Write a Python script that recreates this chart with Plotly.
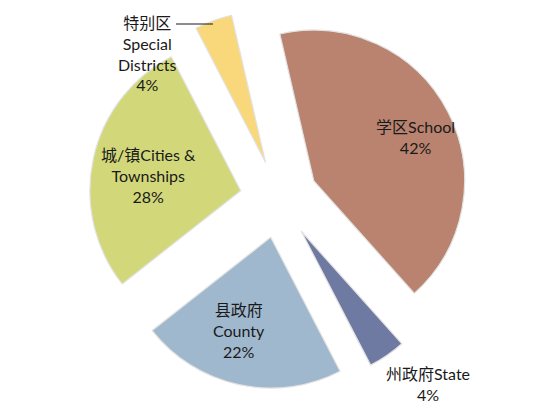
import plotly.graph_objects as go

# slice data, clockwise from the top
labels = ["学区School", "州政府State", "县政府County", "城/镇Cities & Townships", "特别区Special Districts"]
values = [42, 4, 22, 28, 4]
colors = ["#B9836F", "#6F7AA3", "#A0B8CE", "#D2D879", "#F9D77B"]

# label text shown next to / inside each slice
label_text = [
    "学区School<br>42%",
    "州政府State<br>4%",
    "县政府<br>County<br>22%",
    "城/镇Cities &<br>Townships<br>28%",
    "特别区<br>Special<br>Districts<br>4%",
]

W, H = 550, 416
OFF = 8  # page body margin pushes the figure 8px right/down
M = dict(l=20 - OFF, r=12 + OFF, t=9 - OFF, b=27 + OFF)


def px(x, y):
    # screen pixel position -> paper coords
    x, y = x - OFF, y - OFF
    return ((x - M["l"]) / (W - M["l"] - M["r"]),
            1 - (y - M["t"]) / (H - M["t"] - M["b"]))


fig = go.Figure(go.Pie(
    labels=labels,
    values=values,
    sort=False,
    direction="clockwise",
    rotation=-13,
    pull=[0.26] * 5,
    marker=dict(colors=colors, line=dict(color="#e2e2e2", width=1.2)),
    textinfo="none",
    hoverinfo="label+percent",
    showlegend=False,
))

# label centres (screen pixels)
label_pos = [(415, 137), (428, 384), (239, 330), (148, 175), (147, 53)]
font = dict(family="Lato, 'Noto Sans CJK SC', sans-serif", size=16, color="#1a1a1a")
for txt, (x, y) in zip(label_text, label_pos):
    ax, ay = px(x, y)
    fig.add_annotation(x=ax, y=ay, xref="paper", yref="paper", text=txt,
                       xanchor="center", yanchor="middle",
                       showarrow=False, font=font, align="center")

# leader line for the special districts label
x0, y0 = px(176, 24)
x1, y1 = px(213, 24)
fig.add_shape(type="line", xref="paper", yref="paper", x0=x0, y0=y0, x1=x1, y1=y1,
              line=dict(color="#1a1a1a", width=1))

fig.update_layout(
    width=W, height=H,
    margin=M,
    paper_bgcolor="white",
    plot_bgcolor="white",
)

fig.write_html("out.html")
